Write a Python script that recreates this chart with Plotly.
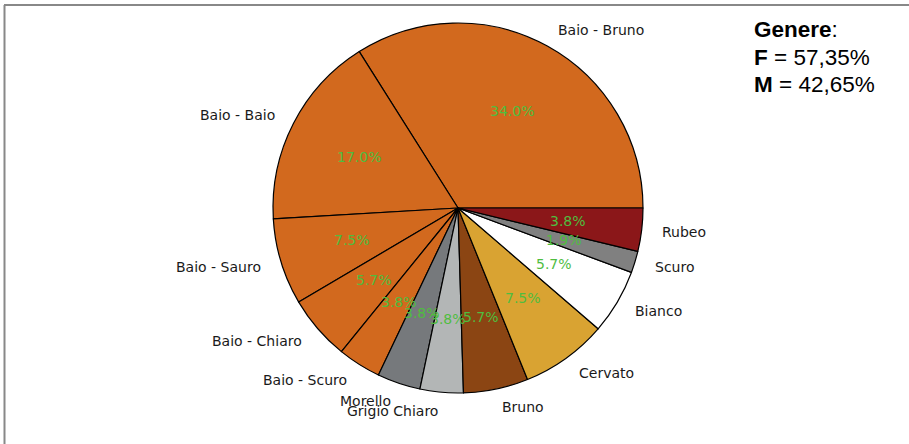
import math
import plotly.graph_objects as go

# ---- data ----
labels = ["Baio - Bruno", "Baio - Baio", "Baio - Sauro", "Baio - Chiaro", "Baio - Scuro",
          "Morello", "Grigio Chiaro", "Bruno", "Cervato", "Bianco", "Scuro", "Rubeo"]
counts = [18, 9, 4, 3, 2, 2, 2, 3, 4, 3, 1, 2]
colors = ["#D2691E", "#D2691E", "#D2691E", "#D2691E", "#D2691E",
          "#76797C", "#B3B6B6", "#8B4513", "#D9A332", "#FFFFFF", "#808080", "#8B1719"]
legend_lines = ["<b>Genere</b>:", "<b>F</b> = 57,35%", "<b>M</b> = 42,65%"]

# ---- layout geometry ----
W, H = 909, 444
CX, CY, R = 458, 208, 185
GREEN = "#4FBD3F"

total = sum(counts)
first_angle = 360.0 * counts[0] / total

fig = go.Figure()
fig.add_trace(go.Pie(
    labels=labels, values=counts, sort=False, direction="counterclockwise",
    rotation=90 - first_angle, textinfo="none", hoverinfo="label+percent",
    marker=dict(colors=colors, line=dict(color="black", width=1.2)),
    domain=dict(x=[(CX - R) / W, (CX + R) / W], y=[(H - CY - R) / H, (H - CY + R) / H]),
    showlegend=False,
))

cum = 0
annotations = []
for lab, v in zip(labels, counts):
    theta = 2 * math.pi * (cum + v / 2) / total
    cum += v
    c, s = math.cos(theta), math.sin(theta)
    # outer label
    lx, ly = CX + 1.1 * R * c, CY - 1.1 * R * s
    annotations.append(dict(
        x=lx / W, y=1 - ly / H, xref="paper", yref="paper", text=lab, showarrow=False,
        xanchor="left" if c > 0 else "right", yanchor="middle",
        font=dict(family="DejaVu Sans", size=14, color="#1a1a1a")))
    # percent label
    px, py = CX + 0.6 * R * c, CY - 0.6 * R * s
    annotations.append(dict(
        x=px / W, y=1 - py / H, xref="paper", yref="paper",
        text=f"{100 * v / total:.1f}%", showarrow=False,
        xanchor="center", yanchor="middle",
        font=dict(family="DejaVu Sans", size=14, color=GREEN)))

for i, t in enumerate(legend_lines):
    yc = [30, 57, 84][i]
    annotations.append(dict(
        x=752 / W, y=1 - yc / H, xref="paper", yref="paper", text=t, showarrow=False,
        xanchor="left", yanchor="middle",
        font=dict(family="Liberation Sans", size=22.5, color="black")))

shapes = [
    dict(type="line", xref="paper", yref="paper", x0=4 / W, x1=1, y0=1 - 5 / H, y1=1 - 5 / H,
         line=dict(color="#888888", width=2)),
    dict(type="line", xref="paper", yref="paper", x0=4.5 / W, x1=4.5 / W, y0=0, y1=1 - 5 / H,
         line=dict(color="#888888", width=2)),
]

fig.update_layout(
    width=W, height=H, margin=dict(l=0, r=0, t=0, b=0),
    paper_bgcolor="white", plot_bgcolor="white",
    annotations=annotations, shapes=shapes,
)
fig.write_html("out.html", config={"displayModeBar": False},
               post_script="document.body.style.margin='0px';document.body.style.overflow='hidden';")
